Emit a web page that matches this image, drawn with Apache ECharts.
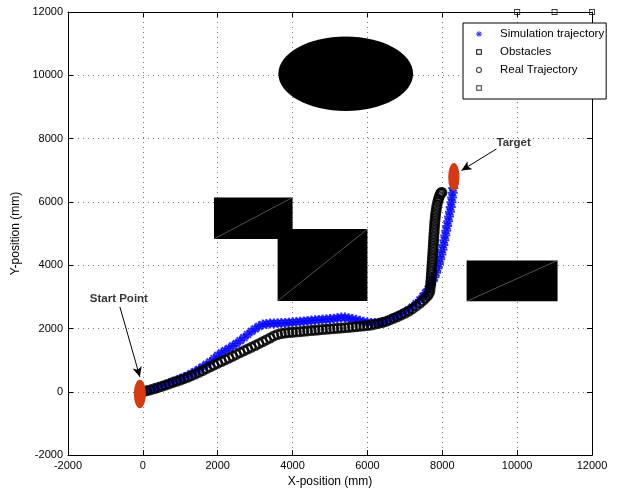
<!DOCTYPE html>
<html>
<head>
<meta charset="utf-8">
<script src="https://cdn.jsdelivr.net/npm/echarts@6/dist/echarts.min.js"></script>
<style>
  html, body { margin: 0; padding: 0; background: #fff; }
  #chart { width: 626px; height: 493px; }
</style>
</head>
<body>
<div id="chart"></div>
<script>
// axis range (mm)
const axisMin = -2000
const axisMax = 12000
const tickStep = 2000

// simulated path (blue asterisks)
const simTrajectory = [
  [0,0],[100,35],[200,70],[300,105],[400,145],[500,185],[600,225],[700,270],[800,315],[900,360],
  [1000,410],[1100,460],[1200,515],[1300,575],[1400,640],[1500,710],[1600,785],[1700,865],[1800,945],[1900,1050],
  [2000,1150],[2100,1230],[2200,1300],[2300,1370],[2400,1450],[2500,1530],[2600,1620],[2700,1710],[2800,1810],[2900,1910],
  [3000,1990],[3100,2070],[3200,2125],[3300,2145],[3400,2155],[3500,2160],[3600,2165],[3700,2170],[3800,2175],[3900,2185],
  [4000,2195],[4100,2205],[4200,2215],[4300,2225],[4400,2238],[4500,2250],[4600,2262],[4700,2272],[4800,2282],[4900,2290],
  [5000,2298],[5100,2310],[5200,2328],[5300,2345],[5400,2345],[5500,2325],[5600,2300],[5700,2275],[5800,2245],[5900,2215],
  [6000,2190],[6100,2175],[6200,2175],[6300,2185],[6400,2205],[6500,2240],[6600,2285],[6700,2335],[6800,2390],[6900,2450],
  [7000,2515],[7100,2590],[7200,2680],[7300,2785],[7400,2900],[7480,3010],[7550,3120],[7620,3240],[7680,3360],[7740,3490],
  [7790,3620],[7835,3760],[7875,3900],[7910,4040],[7945,4190],[7975,4340],[8005,4490],[8030,4640],[8055,4790],[8080,4940],
  [8105,5090],[8130,5240],[8155,5390],[8180,5540],[8205,5690],[8225,5840],[8245,5990],[8262,6140],[8278,6290],[8292,6440],
  [8305,6590]
]

// measured path (black circles)
const realTrajectory = [
  [0,0],[100,30],[200,60],[300,95],[400,130],[500,170],[600,210],[700,250],[800,290],[900,330],
  [1000,370],[1100,415],[1200,460],[1300,510],[1400,560],[1500,615],[1600,670],[1700,730],[1800,790],[1900,845],
  [2000,900],[2100,955],[2200,1010],[2300,1065],[2400,1120],[2500,1180],[2600,1240],[2700,1295],[2800,1350],[2900,1405],
  [3000,1460],[3100,1520],[3200,1580],[3300,1640],[3400,1700],[3500,1765],[3600,1810],[3700,1840],[3800,1858],[3900,1870],
  [4000,1880],[4100,1890],[4200,1900],[4300,1912],[4400,1922],[4500,1935],[4600,1945],[4700,1955],[4800,1965],[4900,1975],
  [5000,1985],[5100,1995],[5200,2005],[5300,2015],[5400,2025],[5500,2035],[5600,2045],[5700,2058],[5800,2070],[5900,2080],
  [6000,2092],[6100,2110],[6200,2135],[6300,2160],[6400,2190],[6500,2225],[6600,2270],[6700,2320],[6800,2370],[6900,2425],
  [7000,2480],[7100,2545],[7200,2620],[7300,2705],[7400,2795],[7480,2880],[7550,2960],[7610,3040],[7650,3110],[7670,3200],
  [7680,3300],[7688,3400],[7695,3500],[7702,3600],[7708,3700],[7713,3800],[7718,3900],[7724,4000],[7730,4100],[7736,4200],
  [7742,4300],[7748,4400],[7753,4500],[7758,4600],[7763,4700],[7768,4800],[7773,4900],[7779,5000],[7785,5100],[7791,5200],
  [7797,5300],[7804,5400],[7812,5500],[7821,5600],[7832,5700],[7845,5800],[7860,5900],[7878,6000],[7898,6090],[7920,6170],
  [7945,6240],[7970,6290],[7990,6300]
]

// obstacles: rectangles [x1, y1, x2, y2], ellipse [cx, cy, rx, ry]
const rectObstacles = [
  [1900, 4830, 4000, 6140],
  [3600, 2870, 6000, 5140],
  [8650, 2860, 11080, 4150]
]
const ellipseObstacles = [[5420, 10050, 1800, 1175]]

// the unnamed square markers on the top edge
const extraMarkers = [[10000, 12000], [11000, 12000], [12000, 12000]]

// start / target ellipses [cx, cy, rx, ry]
const endpointEllipses = [[-80, -70, 160, 450], [8310, 6790, 150, 440]]

// annotations
const annotationLabels = ['Start Point', 'Target']
const annotationPos = [[-641, 2922], [9906, 7855]]
const arrowTails = [[-614, 2684], [9447, 7673]]
const arrowHeads = [[-80, 470], [8512, 6993]]

const font = '"Liberation Sans", Arial, Helvetica, sans-serif'

// marker shapes
const asteriskPath = 'path://M4,0H6V10H4Z M0,4H10V6H0Z M2.3,0.9L9.1,7.7L7.7,9.1L0.9,2.3Z M7.7,0.9L9.1,2.3L2.3,9.1L0.9,7.7Z'
const ringPath = 'path://M5,0A5,5,0,1,1,5,10A5,5,0,1,1,5,0Z M5,2.2A2.8,2.8,0,1,0,5,7.8A2.8,2.8,0,1,0,5,2.2Z'
const squarePath = 'path://M0,0H10V10H0Z M1.5,1.5V8.5H8.5V1.5Z'
// legend icons (framed so they stay small inside the row)
const asteriskIcon = 'path://M0,0M20,20M9.45,5.75H10.55V14.25H9.45Z M5.75,9.45H14.25V10.55H5.75Z M7.4,6.6L13.4,12.6L12.6,13.4L6.6,7.4Z M12.6,6.6L13.4,7.4L7.4,13.4L6.6,12.6Z'
const squareIcon = 'path://M0,0M20,20M6,6H14V14H6Z M7.4,7.4V12.6H12.6V7.4Z'
const ringIcon = 'path://M0,0M20,20M10,5.75A4.25,4.25,0,1,1,10,14.25A4.25,4.25,0,1,1,10,5.75Z M10,7.15A2.85,2.85,0,1,0,10,12.85A2.85,2.85,0,1,0,10,7.15Z'

const chart = echarts.init(document.getElementById('chart'))

const baseAxis = {
  type: 'value',
  min: axisMin,
  max: axisMax,
  interval: tickStep,
  axisLine: { show: true, onZero: false, lineStyle: { color: '#000', width: 1 } },
  axisTick: { show: true, inside: true, length: 5, lineStyle: { color: '#000' } }
}

const gridLine = { show: true, lineStyle: { color: '#777', width: 1, type: [1, 4] } }

chart.setOption({
  animation: false,
  textStyle: { fontFamily: font },
  grid: { left: 68, right: 34, top: 12, bottom: 34 },
  legend: {
    orient: 'vertical',
    left: 463,
    top: 23,
    padding: [4, 2, 4, 9],
    itemWidth: 32,
    itemHeight: 14,
    itemGap: 4,
    symbolKeepAspect: true,
    selectedMode: false,
    backgroundColor: '#fff',
    borderColor: '#000',
    borderWidth: 1,
    borderRadius: 0,
    textStyle: { fontFamily: font, fontSize: 11.5, color: '#000' },
    data: [
      { name: 'Simulation trajectory', icon: asteriskIcon },
      { name: 'Obstacles', icon: squareIcon },
      { name: 'Real Trajectory', icon: ringIcon },
      { name: ' ', icon: squareIcon }
    ]
  },
  xAxis: [
    Object.assign({}, baseAxis, {
      position: 'bottom',
      name: 'X-position (mm)',
      nameLocation: 'middle',
      nameGap: 20,
      nameTextStyle: { color: '#000', fontSize: 12, fontFamily: font },
      axisLabel: { color: '#000', fontSize: 11, margin: 5, fontFamily: font, formatter: v => String(v) },
      splitLine: gridLine
    }),
    Object.assign({}, baseAxis, {
      position: 'top',
      axisLabel: { show: false },
      splitLine: { show: false }
    })
  ],
  yAxis: [
    Object.assign({}, baseAxis, {
      position: 'left',
      name: 'Y-position (mm)',
      nameLocation: 'middle',
      nameGap: 40,
      nameTextStyle: { color: '#000', fontSize: 12, fontFamily: font },
      axisLabel: { color: '#000', fontSize: 11, margin: 5, fontFamily: font, formatter: v => String(v) },
      splitLine: gridLine
    }),
    Object.assign({}, baseAxis, {
      position: 'right',
      axisLabel: { show: false },
      splitLine: { show: false }
    })
  ],
  series: [
    {
      name: 'Simulation trajectory',
      type: 'scatter',
      symbol: asteriskPath,
      symbolSize: 10,
      itemStyle: { color: '#0000ff' },
      data: simTrajectory,
      z: 2
    },
    {
      name: 'Obstacles',
      type: 'custom',
      itemStyle: { color: '#000' },
      encode: { x: [0, 2], y: [1, 3] },
      data: rectObstacles,
      renderItem: (params, api) => {
        const p1 = api.coord([api.value(0), api.value(1)])
        const p2 = api.coord([api.value(2), api.value(3)])
        return {
          type: 'group',
          children: [
            {
              type: 'rect',
              shape: { x: p1[0], y: p2[1], width: p2[0] - p1[0], height: p1[1] - p2[1] },
              style: { fill: '#000' }
            },
            {
              type: 'line',
              shape: { x1: p1[0], y1: p1[1], x2: p2[0], y2: p2[1] },
              style: { stroke: '#8a8a8a', lineWidth: 0.6 }
            }
          ]
        }
      },
      z: 3
    },
    {
      name: 'Obstacles',
      type: 'custom',
      itemStyle: { color: '#000' },
      data: ellipseObstacles,
      renderItem: (params, api) => {
        const c = api.coord([api.value(0), api.value(1)])
        const s = api.size([api.value(2), api.value(3)])
        return {
          type: 'ellipse',
          shape: { cx: c[0], cy: c[1], rx: s[0], ry: s[1] },
          style: { fill: '#000' }
        }
      },
      z: 3
    },
    {
      name: 'Real Trajectory',
      type: 'scatter',
      symbol: ringPath,
      symbolSize: 11,
      itemStyle: { color: '#000' },
      data: realTrajectory,
      z: 4
    },
    {
      name: ' ',
      type: 'scatter',
      symbol: squarePath,
      symbolSize: 6,
      clip: false,
      itemStyle: { color: '#000' },
      data: extraMarkers,
      z: 5
    },
    {
      name: 'endpoints',
      type: 'custom',
      itemStyle: { color: '#d63a12' },
      data: endpointEllipses,
      renderItem: (params, api) => {
        const c = api.coord([api.value(0), api.value(1)])
        const s = api.size([api.value(2), api.value(3)])
        return {
          type: 'ellipse',
          shape: { cx: c[0], cy: c[1], rx: s[0], ry: s[1] },
          style: { fill: '#d63a12' }
        }
      },
      z: 6
    },
    {
      name: 'annotations',
      type: 'scatter',
      symbolSize: 1,
      itemStyle: { color: 'rgba(0,0,0,0)' },
      label: {
        show: true,
        position: 'inside',
        formatter: '{b}',
        color: '#000',
        fontSize: 11.5,
        fontWeight: 'bold',
        fontFamily: font
      },
      data: annotationLabels.map((n, i) => ({ name: n, value: annotationPos[i] })),
      markLine: {
        silent: true,
        symbol: ['none', 'arrow'],
        symbolSize: [7, 10],
        label: { show: false },
        lineStyle: { color: '#000', width: 1, type: 'solid' },
        data: arrowTails.map((t, i) => [{ coord: t }, { coord: arrowHeads[i] }])
      },
      z: 7
    }
  ]
})
</script>
</body>
</html>
